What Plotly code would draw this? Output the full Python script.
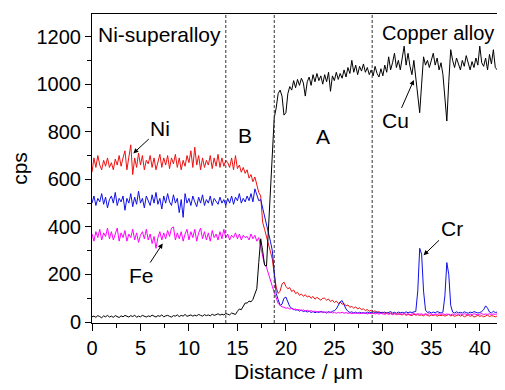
import plotly.graph_objects as go

# sampling grid of the line scan (µm)
x_start = 0.0
x_step = 0.2
n_points = 210
distance = [round(x_start + x_step * i, 1) for i in range(n_points)]

ni = [
    630, 690, 650, 700, 660, 640, 680, 655, 690, 650,
    670, 640, 685, 660, 700, 655, 690, 720, 640, 700,
    745, 620, 690, 650, 710, 660, 700, 640, 680, 665,
    700, 650, 690, 640, 675, 705, 650, 690, 660, 700,
    645, 690, 665, 705, 650, 690, 640, 680, 655, 700,
    670, 720, 650, 735, 660, 700, 640, 690, 650, 680,
    660, 700, 645, 690, 655, 705, 650, 690, 655, 680,
    670, 650, 690, 640, 700, 645, 660, 630, 650, 625,
    640, 605, 620, 590, 610, 575, 545, 530, 420, 390,
    358, 330, 290, 265, 200, 147, 120, 130, 160, 168,
    150, 140, 145, 128, 135, 120, 125, 112, 118, 108,
    115, 105, 110, 100, 108, 96, 104, 98, 92, 100,
    100, 92, 97, 86, 92, 82, 88, 78, 84, 75,
    78, 68, 72, 62, 66, 58, 64, 55, 60, 52,
    56, 48, 53, 45, 50, 44, 47, 40, 44, 38,
    42, 36, 40, 34, 38, 33, 37, 31, 35, 32,
    30, 35, 28, 32, 30, 27, 33, 29, 31, 28,
    30, 26, 32, 28, 25, 30, 27, 31, 24, 29,
    27, 30, 25, 28, 32, 26, 29, 24, 28, 30,
    25, 29, 22, 27, 30, 24, 28, 21, 26, 28,
    24, 27, 22, 26, 29, 23, 27, 25, 22, 26,
]

cr = [
    500, 530, 490, 520, 505, 540, 495, 525, 480, 515,
    530, 500, 545, 490, 520, 505, 530, 470, 520, 500,
    540, 485, 525, 495, 550, 500, 520, 480, 530, 505,
    490, 535, 500, 545, 495, 520, 475, 530, 500, 540,
    505, 490, 535, 500, 520, 460, 515, 440, 540, 500,
    520, 490, 530, 505, 485, 525, 500, 535, 490, 515,
    500, 530, 490, 520, 505, 495, 525, 500, 515, 490,
    520, 500, 530, 495, 525, 510, 540, 500, 520, 505,
    530, 510, 540, 505, 560, 535, 510, 515, 480, 456,
    420, 380, 340, 300, 200, 120, 95, 70, 75, 100,
    105, 80, 65, 58, 55, 50, 52, 46, 50, 44,
    47, 42, 46, 40, 44, 39, 43, 40, 45, 41,
    42, 38, 44, 40, 45, 48, 55, 68, 85, 90,
    72, 55, 45, 40, 43, 38, 42, 37, 41, 38,
    40, 36, 42, 38, 41, 37, 40, 43, 38, 41,
    38, 42, 37, 40, 44, 38, 41, 37, 42, 39,
    41, 38, 43, 39, 42, 40, 44, 45, 130, 310,
    285, 130, 50, 40, 43, 38, 42, 39, 44, 40,
    38, 42, 110, 250, 200, 70, 42, 38, 43, 39,
    41, 38, 43, 40, 37, 42, 39, 44, 40, 38,
    40, 44, 52, 68, 58, 42, 38, 45, 40, 42,
]

fe = [
    370, 340, 380, 355, 390, 345, 375, 360, 395, 350,
    380, 345, 370, 395, 340, 375, 355, 385, 340, 370,
    355, 390, 345, 375, 335, 365, 380, 350, 390, 345,
    370, 330, 360, 310, 355, 380, 345, 375, 350, 385,
    360, 395, 400, 345, 375, 350, 380, 340, 370, 390,
    345, 380, 355, 390, 340, 375, 395, 350, 380, 345,
    375, 340, 385, 355, 370, 345, 380, 350, 390, 355,
    370, 345, 365, 355, 375, 350, 370, 345, 365, 355,
    360, 345, 370, 350, 365, 340, 355, 320, 280, 240,
    230, 200, 175, 150, 125, 100, 78, 70, 64, 62,
    58, 60, 55, 57, 52, 55, 50, 53, 48, 51,
    47, 50, 45, 48, 44, 46, 42, 45, 41, 44,
    40, 43, 39, 42, 38, 41, 37, 40, 38, 41,
    37, 40, 36, 39, 35, 38, 36, 39, 35, 37,
    36, 39, 34, 37, 35, 38, 34, 36, 33, 37,
    35, 32, 36, 33, 35, 31, 34, 36, 32, 35,
    33, 36, 32, 35, 31, 34, 36, 32, 35, 33,
    34, 31, 35, 32, 36, 33, 30, 34, 32, 35,
    32, 35, 31, 34, 33, 30, 34, 31, 35, 32,
    34, 31, 35, 32, 30, 34, 31, 35, 33, 30,
    33, 36, 31, 34, 32, 35, 31, 34, 32, 35,
]

cu = [
    22, 25, 20, 27, 23, 18, 26, 22, 28, 21,
    25, 20, 27, 23, 19, 26, 22, 28, 24, 21,
    27, 23, 29, 20, 25, 22, 28, 24, 21, 26,
    23, 29, 25, 21, 27, 24, 30, 22, 26, 28,
    24, 21, 27, 25, 30, 23, 28, 25, 32, 24,
    27, 30, 25, 29, 26, 32, 28, 25, 31, 27,
    30, 26, 33, 28, 31, 35, 29, 33, 30, 36,
    33, 30, 38, 34, 32, 45, 55, 52, 65, 80,
    80, 88, 85, 95, 118, 140, 250, 350, 300, 240,
    235, 380, 560, 720, 860, 900, 960, 975, 950, 870,
    880, 960, 990, 975, 1015, 985, 1020, 995, 1025, 1005,
    950, 1010, 1030, 995, 1040, 1010, 1045, 1015, 1035, 1000,
    1040, 1010, 1050, 970, 1035, 1015, 1050, 1020, 1045, 1025,
    1060, 1030, 1070, 1045, 1100, 1050, 1080, 1040, 1075, 1055,
    1085, 1050, 1070, 1040, 1060, 1035, 1075, 1045, 1030, 1065,
    1035, 1080, 1050, 1115, 1060, 1090, 1130, 1070, 1100, 1060,
    1110, 1160, 1080, 1130, 1075, 1040, 1100, 1020, 960, 880,
    1000, 1115, 1080, 1100, 1070, 1095, 1130, 1080, 1110, 1060,
    1090, 1040, 950, 845, 1010, 1145, 1100, 1070, 1110, 1085,
    1060, 1100, 1075, 1120, 1085, 1060, 1095, 1070, 1110, 1080,
    1160, 1090, 1075, 1110, 1060, 1125, 1085, 1145, 1070, 1060,
]

boundaries = [13.8, 18.8, 28.9]

FONT = "Liberation Sans, Arial, sans-serif"

fig = go.Figure()
fig.add_trace(go.Scatter(x=distance, y=ni, mode="lines", line=dict(color="#ee1111", width=1), name="Ni"))
fig.add_trace(go.Scatter(x=distance, y=cr, mode="lines", line=dict(color="#1010e8", width=1), name="Cr"))
fig.add_trace(go.Scatter(x=distance, y=fe, mode="lines", line=dict(color="#ff00ff", width=1), name="Fe"))
fig.add_trace(go.Scatter(x=distance, y=cu, mode="lines", line=dict(color="#000000", width=1), name="Cu"))

for b in boundaries:
    fig.add_shape(type="line", xref="x", yref="paper", x0=b, x1=b, y0=0, y1=1,
                  line=dict(color="#333333", width=1, dash="3px,2px"))

txt = dict(family=FONT, size=21, color="black")
fig.add_annotation(x=0.45, y=1207, text="Ni-superalloy", showarrow=False, xanchor="left", yanchor="middle", font=txt)
fig.add_annotation(x=29.7, y=1216, text="Copper alloy", showarrow=False, xanchor="left", yanchor="middle",
                   font=dict(family=FONT, size=20, color="black"))
fig.add_annotation(x=15.8, y=786, text="B", showarrow=False, font=txt)
fig.add_annotation(x=23.85, y=779, text="A", showarrow=False, font=txt)

arrow = dict(showarrow=True, arrowhead=2, arrowsize=1, arrowwidth=1, arrowcolor="black", font=txt)
fig.add_annotation(x=4.26, y=709, text="Ni", ax=27, ay=-25, **arrow)
fig.add_annotation(x=7.29, y=330, text="Fe", ax=-21, ay=32, **arrow)
fig.add_annotation(x=33.2, y=1018, text="Cu", ax=-18, ay=41, **arrow)
fig.add_annotation(x=34.2, y=281, text="Cr", ax=28, ay=-27, **arrow)

# the page body adds an 8px margin, so the figure is sized to fill the rest of the window
fig.update_layout(
    width=497, height=382,
    margin=dict(l=84, r=0, t=6, b=67, autoexpand=False),
    paper_bgcolor="white", plot_bgcolor="white",
    showlegend=False,
    font=dict(family=FONT, size=20, color="black"),
)
fig.update_xaxes(
    range=[0, 42.6], automargin=False, showline=True, linecolor="black", linewidth=1, mirror=True,
    showgrid=False, zeroline=False, ticks="outside", ticklen=7, tickwidth=1, tickcolor="black",
    tick0=0, dtick=5, tickfont=dict(family=FONT, size=20),
    minor=dict(ticks="outside", ticklen=4, tickcolor="black", dtick=2.5, tick0=0, showgrid=False),
    title=dict(text="Distance / μm", font=dict(family=FONT, size=21), standoff=6),
)
fig.update_yaxes(
    range=[-4, 1295], automargin=False, showline=True, linecolor="black", linewidth=1, mirror=False,
    showgrid=False, zeroline=False, ticks="outside", ticklen=6, tickwidth=1, tickcolor="black",
    tick0=0, dtick=200, tickfont=dict(family=FONT, size=20),
    minor=dict(ticks="outside", ticklen=4, tickcolor="black", dtick=100, tick0=0, showgrid=False),
    title=dict(text="cps", font=dict(family=FONT, size=21), standoff=14),
)

fig.write_html("out.html")
